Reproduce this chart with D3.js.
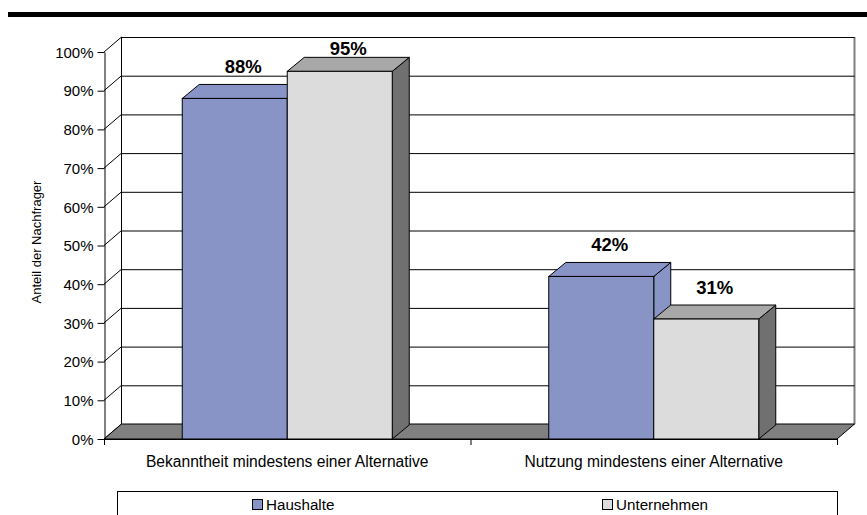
<!DOCTYPE html>
<html>
<head>
<meta charset="utf-8">
<script src="https://cdn.jsdelivr.net/npm/d3@7"></script>
<style>
  html, body { margin: 0; padding: 0; background: #fff; }
  svg { display: block; font-family: "Liberation Sans", Arial, sans-serif; }
</style>
</head>
<body>
<svg id="chart" width="867" height="515"></svg>
<script>
// Data
const categories = ["Bekanntheit mindestens einer Alternative", "Nutzung mindestens einer Alternative"];
const seriesNames = ["Haushalte", "Unternehmen"];
const haushalte = [0.88, 0.42];
const unternehmen = [0.95, 0.31];
const yTicks = [0, 0.1, 0.2, 0.3, 0.4, 0.5, 0.6, 0.7, 0.8, 0.9, 1.0];
const yTitle = "Anteil der Nachfrager";

const seriesValues = [haushalte, unternehmen];
const colors = {
  Haushalte:   { front: "#8894C6", top: "#8894C6", side: "#8894C6" },
  Unternehmen: { front: "#DCDCDC", top: "#A8A8A8", side: "#707070" }
};

const svg = d3.select("#chart");

// Layout of the 3D box
const plotLeft = 104, plotRight = 837, plotTop = 52, plotBottom = 439;
const wallDx = 17.5, wallDy = 15;   // depth offset of the back wall
const barDx = 17, barDy = 14;       // depth offset of the bars

const y = d3.scaleLinear().domain([0, 1]).range([plotBottom, plotTop]);
const x0 = d3.scaleBand().domain(categories).range([plotLeft, plotRight]);
const xs = d3.scaleBand().domain(seriesNames).range([-105, 105]);

// Title rule
svg.append("rect").attr("x", 8).attr("y", 12).attr("width", 859).attr("height", 5).attr("fill", "#000");

// Back wall
const g = svg.append("g");
g.append("line")
  .attr("x1", plotLeft + wallDx).attr("x2", plotLeft + wallDx)
  .attr("y1", y(1) - wallDy).attr("y2", y(0) - wallDy)
  .attr("stroke", "#000").attr("stroke-width", 1);
g.append("line")
  .attr("x1", plotRight + wallDx).attr("x2", plotRight + wallDx)
  .attr("y1", y(1) - wallDy).attr("y2", y(0) - wallDy)
  .attr("stroke", "#808080").attr("stroke-width", 2);

// Gridlines on back wall and diagonals on the side wall
yTicks.forEach(v => {
  g.append("line")
    .attr("x1", plotLeft + wallDx).attr("x2", plotRight + wallDx)
    .attr("y1", y(v) - wallDy + 0.5).attr("y2", y(v) - wallDy + 0.5)
    .attr("stroke", "#000").attr("stroke-width", 1);
  g.append("line")
    .attr("x1", plotLeft).attr("x2", plotLeft + wallDx)
    .attr("y1", y(v)).attr("y2", y(v) - wallDy)
    .attr("stroke", "#000").attr("stroke-width", 1);
});

// Floor
g.append("polygon")
  .attr("points", [[plotLeft, plotBottom], [plotRight, plotBottom], [plotRight + wallDx, plotBottom - wallDy], [plotLeft + wallDx, plotBottom - wallDy]].map(p => p.join(",")).join(" "))
  .attr("fill", "#808080").attr("stroke", "#000").attr("stroke-width", 1);

// Y axis
const yAxis = d3.axisLeft(y).tickValues(yTicks).tickFormat(d3.format(".0%")).tickSize(7).tickSizeOuter(0);
const ya = svg.append("g").attr("transform", `translate(${plotLeft + 0.5},0)`).call(yAxis);
ya.select(".domain").attr("stroke", "#000");
ya.selectAll("text").attr("font-size", "15px").attr("fill", "#000").attr("font-family", "Liberation Sans, Arial, sans-serif").attr("dy", "0.35em").attr("x", -11);

// Category axis ticks
const catTicks = [plotLeft, (plotLeft + plotRight) / 2, plotRight];
svg.append("g").selectAll("line").data(catTicks).join("line")
  .attr("x1", d => d + 0.5).attr("x2", d => d + 0.5)
  .attr("y1", plotBottom).attr("y2", plotBottom + 6)
  .attr("stroke", "#000");
svg.append("line").attr("x1", plotLeft).attr("x2", plotRight).attr("y1", plotBottom + 0.5).attr("y2", plotBottom + 0.5).attr("stroke", "#000");

// Bars
const bars = [];
categories.forEach((c, ci) => {
  seriesNames.forEach((s, si) => {
    bars.push({ cat: c, series: s, value: seriesValues[si][ci] });
  });
});

const barG = svg.append("g");
bars.forEach(b => {
  const cx = x0(b.cat) + x0.bandwidth() / 2;
  const x1 = cx + xs(b.series);
  const x2 = x1 + xs.bandwidth();
  const yt = y(b.value), yb = y(0);
  const col = colors[b.series];
  const bg = barG.append("g");
  // side face
  bg.append("polygon")
    .attr("points", [[x2, yb], [x2 + barDx, yb - barDy], [x2 + barDx, yt - barDy], [x2, yt]].map(p => p.join(",")).join(" "))
    .attr("fill", col.side).attr("stroke", "#000").attr("stroke-width", 1).attr("stroke-linejoin", "round");
  // top face
  bg.append("polygon")
    .attr("points", [[x1, yt], [x1 + barDx, yt - barDy], [x2 + barDx, yt - barDy], [x2, yt]].map(p => p.join(",")).join(" "))
    .attr("fill", col.top).attr("stroke", "#000").attr("stroke-width", 1).attr("stroke-linejoin", "round");
  // front face
  bg.append("rect")
    .attr("x", x1).attr("y", yt).attr("width", x2 - x1).attr("height", yb - yt)
    .attr("fill", col.front).attr("stroke", "#000").attr("stroke-width", 1);
  // value label
  svg.append("text")
    .attr("x", (x1 + x2) / 2 + barDx / 2)
    .attr("y", Math.max(yt - 25, 55))
    .attr("text-anchor", "middle")
    .attr("font-size", "18.5px").attr("font-weight", "bold").attr("fill", "#000")
    .text(d3.format(".0%")(b.value));
});

// Category labels
svg.append("g").selectAll("text").data(categories).join("text")
  .attr("x", d => x0(d) + x0.bandwidth() / 2)
  .attr("y", 467)
  .attr("text-anchor", "middle")
  .attr("font-size", "15.6px").attr("fill", "#000")
  .text(d => d);

// Y axis title
svg.append("text")
  .attr("transform", "translate(41,242) rotate(-90)")
  .attr("text-anchor", "middle")
  .attr("font-size", "13px").attr("fill", "#000")
  .text(yTitle);

// Legend
svg.append("rect").attr("x", 117.5).attr("y", 491.5).attr("width", 720).attr("height", 40)
  .attr("fill", "#fff").attr("stroke", "#000").attr("stroke-width", 1);
const legendX = d3.scaleOrdinal().domain(seriesNames).range([252, 602]);
const lg = svg.append("g").selectAll("g").data(seriesNames).join("g")
  .attr("transform", d => `translate(${legendX(d)},499)`);
lg.append("rect").attr("x", 0.5).attr("y", 0.5).attr("width", 10).attr("height", 10)
  .attr("fill", d => colors[d].front).attr("stroke", "#000");
lg.append("text").attr("x", 14).attr("y", 11)
  .attr("font-size", "15.2px").attr("fill", "#000").text(d => d);
</script>
</body>
</html>
